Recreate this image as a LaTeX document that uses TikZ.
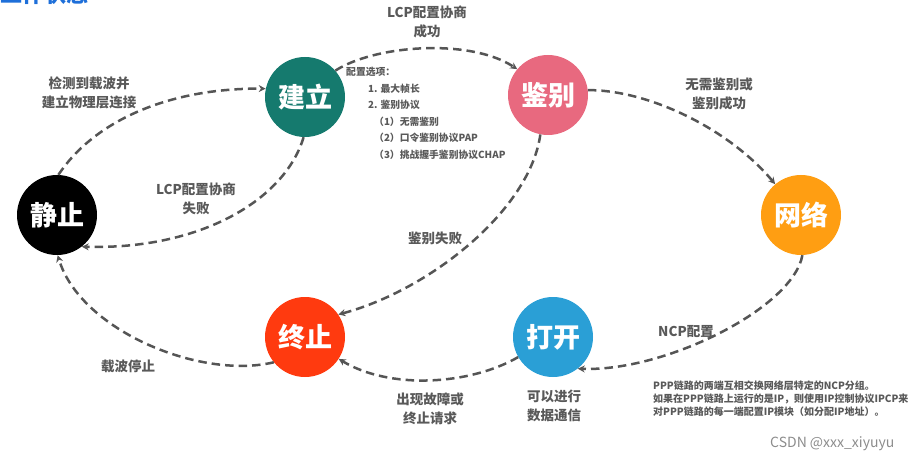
\documentclass[tikz,border=0pt]{standalone}
\usepackage{fontspec}
\setmainfont{Noto Sans CJK SC}
\usetikzlibrary{arrows.meta}

\definecolor{cStatic}{HTML}{000000}
\definecolor{cEstab}{HTML}{157A6E}
\definecolor{cAuth}{HTML}{E8697F}
\definecolor{cNet}{HTML}{FF9E12}
\definecolor{cOpen}{HTML}{2A9FD6}
\definecolor{cTerm}{HTML}{FF3A0F}
\definecolor{lineGray}{HTML}{555555}
\definecolor{textGray}{HTML}{595959}
\definecolor{titleBlue}{HTML}{1E6FD9}

\begin{document}
\begin{tikzpicture}[
    x=1pt, y=-1pt,
    % Phase: filled circle with white bold text
    phase/.style={
        circle, minimum size=80pt, inner sep=0pt, text=white,
        font=\fontsize{27}{30}\selectfont\bfseries
    },
    % Transition label: grey bold, centred
    lbl/.style={
        font=\fontsize{13.5}{19}\selectfont\bfseries,
        text=textGray, align=center, inner sep=0pt
    },
    % Small note text
    note/.style={
        font=\fontsize{10}{12.7}\selectfont\bfseries,
        text=textGray, align=left, inner sep=0pt
    },
    % Dashed transition arrow
    flow/.style={
        draw=lineGray, line width=2.5pt, dash pattern=on 8.5pt off 5pt,
        -{Stealth[length=7pt, width=7pt]}
    },
]
\useasboundingbox (0,0) rectangle (915,462);

% ============================================================
% TITLE (cut off at the top edge)
% ============================================================
\node[anchor=base west, inner sep=0pt, text=titleBlue,
      font=\fontsize{22}{24}\selectfont\bfseries] (title) at (0,3) {工作状态};

% ============================================================
% PHASES
% ============================================================
\node[phase, fill=cStatic] (jingzhi)  at ( 57, 215) {静止};
\node[phase, fill=cEstab]  (jianli)   at (305,  97) {建立};
\node[phase, fill=cAuth]   (jianbie)  at (548,  95) {鉴别};
\node[phase, fill=cNet]    (wangluo)  at (801, 215) {网络};
\node[phase, fill=cOpen]   (dakai)    at (553, 337) {打开};
\node[phase, fill=cTerm]   (zhongzhi) at (305, 337) {终止};

% ============================================================
% TRANSITIONS
% ============================================================
\draw[flow] (jingzhi.88)   .. controls (95,120)  and (170,88)  .. (jianli.168);
\draw[flow] (jianli.-92)   .. controls (285,200) and (200,250) .. (jingzhi.-52);
\draw[flow] (jianli.41)    .. controls (375,45)  and (470,38)  .. (jianbie.140);
\draw[flow] (jianbie.7)    .. controls (650,90)  and (730,130) .. (wangluo.130);
\draw[flow] (wangluo.-88)  .. controls (793,308) and (665,372) .. (dakai.-52);
\draw[flow] (jianbie.-101) .. controls (530,210) and (430,290) .. (zhongzhi.34);
\draw[flow] (dakai.-150)   .. controls (470,385) and (390,390) .. (zhongzhi.-33);
\draw[flow] (zhongzhi.-141) .. controls (200,380) and (80,330) .. (jingzhi.-89);

% ============================================================
% LABELS
% ============================================================
\node[lbl] (l-detect)  at ( 89,  93) {检测到载波并\\建立物理层连接};
\node[lbl] (l-lcpfail) at (196, 199) {LCP配置协商\\失败};
\node[lbl] (l-lcpok)   at (427,  22) {LCP配置协商\\成功};
\node[lbl] (l-authok)  at (719,  94) {无需鉴别或\\鉴别成功};
\node[lbl] (l-ncp)     at (686, 332) {NCP配置};
\node[lbl] (l-authbad) at (435, 238) {鉴别失败};
\node[lbl] (l-fault)   at (430, 409) {出现故障或\\终止请求};
\node[lbl] (l-carrier) at (128, 366) {载波停止};
\node[lbl] (l-data)    at (554, 406) {可以进行\\数据通信};

% Configuration options next to the establish phase
\node[note, font=\fontsize{9.8}{16.5}\selectfont\bfseries, anchor=north west]
    (opts) at (346, 67) {配置选项：\\
    \hspace*{22pt}1. 最大帧长\\
    \hspace*{22pt}2. 鉴别协议\\
    \hspace*{28pt}（1）无需鉴别\\
    \hspace*{28pt}（2）口令鉴别协议PAP\\
    \hspace*{28pt}（3）挑战握手鉴别协议CHAP};

% NCP note
\node[note, anchor=north west] (ncpnote) at (653, 381)
    {PPP链路的两端互相交换网络层特定的NCP分组。\\
     如果在PPP链路上运行的是IP，则使用IP控制协议IPCP来\\
     对PPP链路的每一端配置IP模块（如分配IP地址）。};

% Watermark
\node[anchor=base west, inner sep=0pt, text=black!45,
      font=\fontsize{14}{16}\selectfont] (wm) at (770, 447) {CSDN @xxx\_xiyuyu};

\end{tikzpicture}
\end{document}
